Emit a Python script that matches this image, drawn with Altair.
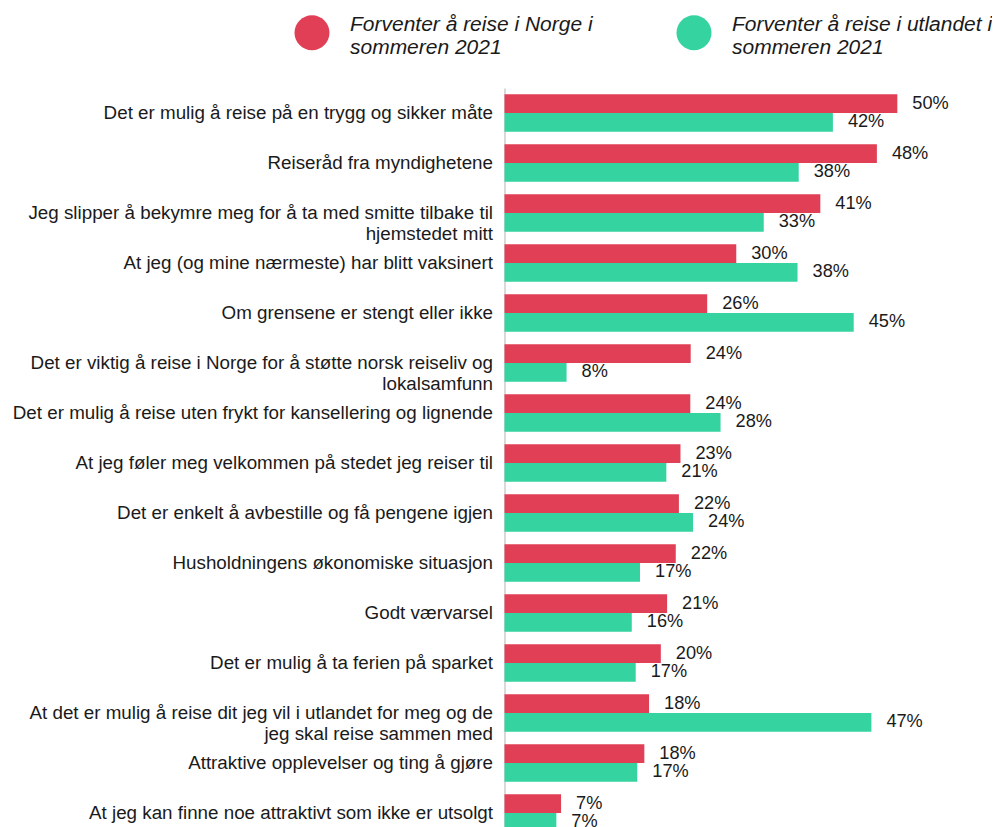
import altair as alt
import pandas as pd

categories = [
    "Det er mulig å reise på en trygg og sikker måte",
    "Reiseråd fra myndighetene",
    "Jeg slipper å bekymre meg for å ta med smitte tilbake til|hjemstedet mitt",
    "At jeg (og mine nærmeste) har blitt vaksinert",
    "Om grensene er stengt eller ikke",
    "Det er viktig å reise i Norge for å støtte norsk reiseliv og|lokalsamfunn",
    "Det er mulig å reise uten frykt for kansellering og lignende",
    "At jeg føler meg velkommen på stedet jeg reiser til",
    "Det er enkelt å avbestille og få pengene igjen",
    "Husholdningens økonomiske situasjon",
    "Godt værvarsel",
    "Det er mulig å ta ferien på sparket",
    "At det er mulig å reise dit jeg vil i utlandet for meg og de|jeg skal reise sammen med",
    "Attraktive opplevelser og ting å gjøre",
    "At jeg kan finne noe attraktivt som ikke er utsolgt",
]

series = [
    "Forventer å reise i Norge i|sommeren 2021",
    "Forventer å reise i utlandet i|sommeren 2021",
]

norge_values = [50.0, 47.4, 40.2, 29.5, 25.8, 23.7, 23.65, 22.4, 22.2, 21.8, 20.7, 19.9, 18.4, 17.8, 7.2]
utland_values = [41.8, 37.45, 33.0, 37.3, 44.45, 7.9, 27.5, 20.6, 24.0, 17.25, 16.2, 16.7, 46.7, 16.9, 6.6]

norge_labels = ["50%", "48%", "41%", "30%", "26%", "24%", "24%", "23%", "22%", "22%", "21%", "20%", "18%", "18%", "7%"]
utland_labels = ["42%", "38%", "33%", "38%", "45%", "8%", "28%", "21%", "24%", "17%", "16%", "17%", "47%", "17%", "7%"]

colors = ["#E03F55", "#34D3A0"]

rows = []
for i, c in enumerate(categories):
    rows.append({"kategori": c, "serie": series[0], "verdi": norge_values[i], "tekst": norge_labels[i]})
    rows.append({"kategori": c, "serie": series[1], "verdi": utland_values[i], "tekst": utland_labels[i]})
df = pd.DataFrame(rows)

FONT = "Liberation Sans"

# circle symbol, shifted down so it sits centred on the two-line legend label
LEGEND_SYMBOL = "M -1 0.46 A 1 1 0 1 0 1 0.46 A 1 1 0 1 0 -1 0.46 Z"

y_enc = alt.Y(
    "kategori:N",
    sort=categories,
    scale=alt.Scale(paddingInner=0.25, paddingOuter=0.125),
    axis=alt.Axis(
        title=None,
        ticks=False,
        domainColor="#d9d9d9",
        domainWidth=2,
        labelFont=FONT,
        labelFontSize=18.8,
        labelColor="#1a1a1a",
        labelPadding=12,
        labelLimit=0,
        labelLineHeight=21.5,
        labelExpr="split(datum.label, '|')",
    ),
)
yoff_enc = alt.YOffset("serie:N", sort=series, scale=alt.Scale(paddingInner=0, paddingOuter=0))
x_enc = alt.X("verdi:Q", scale=alt.Scale(domain=[0, 55], nice=False, zero=True), axis=None)

bars = alt.Chart(df).mark_bar(cornerRadius=0).encode(
    x=x_enc,
    y=y_enc,
    yOffset=yoff_enc,
    color=alt.Color(
        "serie:N",
        sort=series,
        scale=alt.Scale(domain=series, range=colors),
        legend=alt.Legend(
            title=None,
            orient="none",
            direction="horizontal",
            legendX=-210,
            legendY=-81,
            symbolType=LEGEND_SYMBOL,
            symbolSize=1225,
            symbolStrokeWidth=0,
            symbolOpacity=1,
            labelFont=FONT,
            labelFontSize=21,
            labelFontStyle="italic",
            labelColor="#1a1a1a",
            labelOffset=20.5,
            labelLimit=400,
            columnPadding=83,
            labelExpr="split(datum.label, '|')",
        ),
    ),
)

texts = alt.Chart(df).mark_text(
    align="left", baseline="middle", dx=15, font=FONT, fontSize=18.2, color="#1a1a1a"
).encode(
    x=x_enc,
    y=alt.Y("kategori:N", sort=categories),
    yOffset=alt.YOffset("serie:N", sort=series),
    text="tekst:N",
)

chart = (
    alt.layer(bars, texts)
    .properties(
        width=432.1,
        height=750,
        autosize=alt.AutoSizeParams(type="none"),
        padding={"left": 496.5, "top": 80, "right": 55, "bottom": 10},
        background="white",
    )
    .configure_view(stroke=None)
)

chart.save("out.html", embed_options={"renderer": "svg", "actions": False})
